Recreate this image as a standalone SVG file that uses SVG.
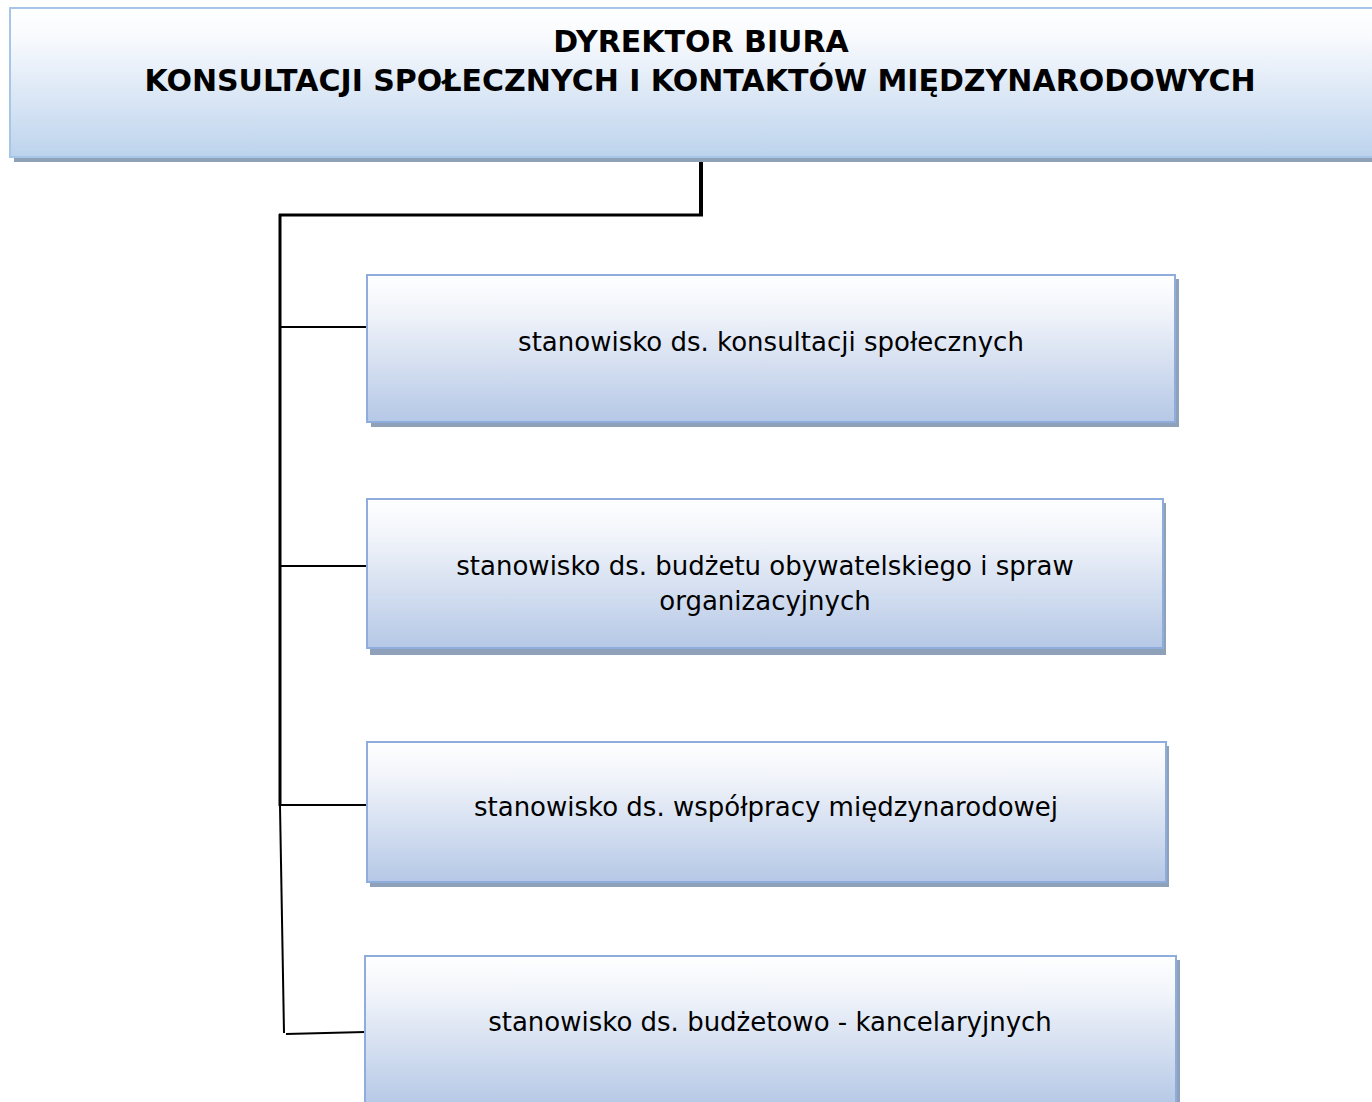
<svg xmlns="http://www.w3.org/2000/svg" width="1372" height="1102" viewBox="0 0 1372 1102">
<defs>
<linearGradient id="gTop" x1="0" y1="0" x2="0" y2="1">
<stop offset="0" stop-color="#ffffff"/>
<stop offset="0.2" stop-color="#f8fafd"/>
<stop offset="1" stop-color="#bcd3ed"/>
</linearGradient>
<linearGradient id="gBox" x1="0" y1="0" x2="0" y2="1">
<stop offset="0" stop-color="#ffffff"/>
<stop offset="0.25" stop-color="#f1f4fa"/>
<stop offset="1" stop-color="#b5c8e6"/>
</linearGradient>
<style>
.shadow{fill:#8ea1b8}
.top{fill:url(#gTop);stroke:#a6c6e8;stroke-width:2}
.box{fill:url(#gBox);stroke:#8eacdc;stroke-width:2}
.title{font-family:"DejaVu Sans",Verdana,sans-serif;font-weight:bold;font-size:30px;fill:#000;text-anchor:middle}
.lbl{font-family:"DejaVu Sans",Verdana,sans-serif;font-size:26px;fill:#000;text-anchor:middle}
.c{stroke:#000;fill:none}
</style>
</defs>
<g id="connectors">
<line class="c" x1="701" y1="157" x2="701" y2="216" stroke-width="4"/>
<line class="c" x1="279" y1="215" x2="703" y2="215" stroke-width="3"/>
<line class="c" x1="280" y1="214" x2="280" y2="806" stroke-width="3"/>
<line class="c" x1="280" y1="327" x2="367" y2="327" stroke-width="2"/>
<line class="c" x1="280" y1="566" x2="367" y2="566" stroke-width="2"/>
<line class="c" x1="280" y1="805" x2="367" y2="805" stroke-width="2"/>
<line class="c" x1="280" y1="806" x2="284" y2="1033" stroke-width="2"/>
<line class="c" x1="286" y1="1034" x2="365" y2="1032" stroke-width="2"/>
</g>
<g id="director">
<rect class="shadow" x="14" y="12" width="1370" height="150"/>
<rect class="top" x="10" y="8" width="1372" height="149"/>
<text class="title" x="701" y="52">DYREKTOR BIURA</text>
<text class="title" x="700" y="91">KONSULTACJI SPOŁECZNYCH I KONTAKTÓW MIĘDZYNARODOWYCH</text>
</g>
<g id="node1">
<rect class="shadow" x="371" y="279" width="808" height="148"/>
<rect class="box" x="367" y="275" width="808" height="147"/>
<text class="lbl" x="771" y="351">stanowisko ds. konsultacji społecznych</text>
</g>
<g id="node2">
<rect class="shadow" x="370" y="503" width="796" height="152"/>
<rect class="box" x="367" y="499" width="796" height="149"/>
<text class="lbl" x="765" y="575">stanowisko ds. budżetu obywatelskiego i spraw</text>
<text class="lbl" x="765" y="610">organizacyjnych</text>
</g>
<g id="node3">
<rect class="shadow" x="370" y="746" width="799" height="141"/>
<rect class="box" x="367" y="742" width="799" height="140"/>
<text class="lbl" x="766" y="816">stanowisko ds. współpracy międzynarodowej</text>
</g>
<g id="node4">
<rect class="shadow" x="369" y="960" width="811" height="150"/>
<rect class="box" x="365" y="956" width="811" height="150"/>
<text class="lbl" x="770" y="1031">stanowisko ds. budżetowo - kancelaryjnych</text>
</g>
</svg>
